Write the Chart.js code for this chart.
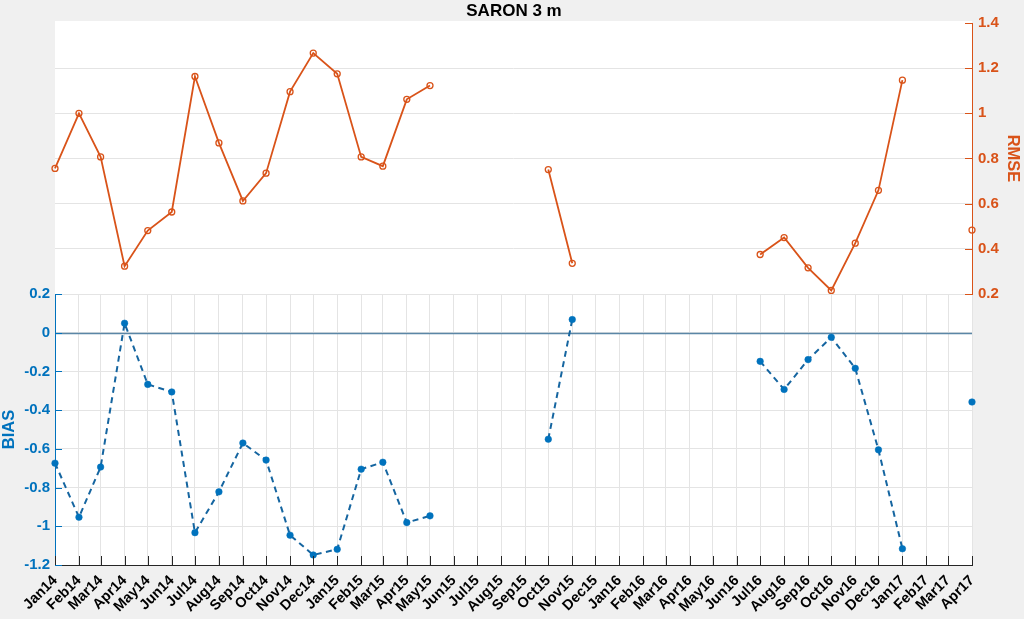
<!DOCTYPE html>
<html>
<head>
<meta charset="utf-8">
<script src="https://cdn.jsdelivr.net/npm/chart.js@4.4.1/dist/chart.umd.min.js"></script>
<style>
  html, body { margin: 0; padding: 0; background: #f0f0f0; }
  #wrap { position: relative; width: 1024px; height: 619px; background: #f0f0f0; overflow: hidden; }
  canvas { position: absolute; left: 0; top: 0; }
  #title { position: absolute; left: 0; top: 1px; width: 1028px; text-align: center;
           font: bold 17px "Liberation Sans", Arial, sans-serif; color: #000; line-height: 20px; }
</style>
</head>
<body>
<div id="wrap">
  <canvas id="bias" width="1024" height="619"></canvas>
  <canvas id="rmse" width="1024" height="619"></canvas>
  <div id="title">SARON 3 m</div>
</div>
<script>
const months = ['Jan14', 'Feb14', 'Mar14', 'Apr14', 'May14', 'Jun14', 'Jul14', 'Aug14', 'Sep14', 'Oct14', 'Nov14', 'Dec14',
                'Jan15', 'Feb15', 'Mar15', 'Apr15', 'May15', 'Jun15', 'Jul15', 'Aug15', 'Sep15', 'Oct15', 'Nov15', 'Dec15',
                'Jan16', 'Feb16', 'Mar16', 'Apr16', 'May16', 'Jun16', 'Jul16', 'Aug16', 'Sep16', 'Oct16', 'Nov16', 'Dec16',
                'Jan17', 'Feb17', 'Mar17', 'Apr17'];

// RMSE (top panel, right axis)
const rmse = [0.756, 1.00, 0.807, 0.323, 0.481, 0.563, 1.163, 0.869, 0.612, 0.735, 1.096, 1.267,
              1.175, 0.807, 0.766, 1.062, 1.123, null, null, null, null, 0.751, 0.336, null,
              null, null, null, null, null, null, 0.375, 0.450, 0.316, 0.216, 0.425, 0.659,
              1.147, null, null, 0.483];

// BIAS (bottom panel, left axis)
const bias = [-0.674, -0.953, -0.694, 0.049, -0.267, -0.306, -1.033, -0.822, -0.570, -0.658, -1.046, -1.148,
              -1.119, -0.705, -0.669, -0.981, -0.946, null, null, null, null, -0.550, 0.068, null,
              null, null, null, null, null, null, -0.148, -0.293, -0.139, -0.024, -0.184, -0.605,
              -1.116, null, null, -0.358];

const ORANGE = '#D95319';
const BLUE = '#0072BD';
const GRID = '#e4e4e4';

Chart.defaults.font.family = '"Liberation Sans", Arial, sans-serif';

// x positions are days since Jan 1 2014, so month ticks get their real spacing
const monNames = ['Jan', 'Feb', 'Mar', 'Apr', 'May', 'Jun', 'Jul', 'Aug', 'Sep', 'Oct', 'Nov', 'Dec'];
const dayOf = m => (Date.UTC(2000 + Number(m.slice(3)), monNames.indexOf(m.slice(0, 3)), 1) - Date.UTC(2014, 0, 1)) / 864e5;
const xs = months.map(dayOf);

const rmseData = rmse.map((v, i) => ({x: xs[i], y: v}));
const biasData = bias.map((v, i) => ({x: xs[i], y: v}));

const fmt = v => String(Number(v.toFixed(1)));

const panelBg = {
  id: 'panelBg',
  beforeDraw(chart) {
    const {ctx, chartArea: a} = chart;
    ctx.save();
    ctx.fillStyle = '#ffffff';
    ctx.fillRect(a.left, a.top - 2, a.right - a.left, a.bottom - a.top + 2);
    ctx.restore();
  }
};

// matlab style ticks pointing into the plot
const innerTicks = {
  id: 'innerTicks',
  afterDraw(chart, args, opts) {
    const {ctx, chartArea: a} = chart;
    ctx.save();
    ctx.lineWidth = 1;
    (opts.axes || []).forEach(ax => {
      const sc = chart.scales[ax.id];
      ctx.strokeStyle = ax.color;
      sc.ticks.forEach(t => {
        const p = Math.round(sc.getPixelForValue(t.value)) + 0.5;
        ctx.beginPath();
        if (sc.isHorizontal()) {
          ctx.moveTo(p, a.bottom);
          ctx.lineTo(p, a.bottom - ax.len);
        } else if (sc.position === 'left') {
          ctx.moveTo(a.left, p);
          ctx.lineTo(a.left + ax.len, p);
        } else {
          ctx.moveTo(a.right, p);
          ctx.lineTo(a.right - ax.len, p);
        }
        ctx.stroke();
      });
    });
    ctx.restore();
  }
};

const zeroLine = {
  id: 'zeroLine',
  beforeDatasetsDraw(chart) {
    const {ctx, chartArea: a, scales: {y}} = chart;
    const py = Math.round(y.getPixelForValue(0)) + 0.5;
    ctx.save();
    ctx.strokeStyle = '#5a86a6';
    ctx.lineWidth = 1.3;
    ctx.beginPath();
    ctx.moveTo(a.left, py);
    ctx.lineTo(a.right, py);
    ctx.stroke();
    ctx.restore();
  }
};

new Chart(document.getElementById('bias'), {
  type: 'line',
  data: {
    datasets: [{
      data: biasData,
      borderColor: '#1565a0',
      borderWidth: 2,
      borderDash: [6, 4.5],
      pointRadius: 3.3,
      pointBorderWidth: 0.5,
      pointBackgroundColor: BLUE,
      pointBorderColor: BLUE,
      spanGaps: false,
      tension: 0,
      clip: false
    }]
  },
  options: {
    responsive: false,
    animation: false,
    devicePixelRatio: 1,
    layout: {padding: {left: 0, top: 294, right: 52, bottom: 0}},
    plugins: {
      legend: {display: false},
      tooltip: {enabled: false},
      innerTicks: {axes: [{id: 'x', color: '#262626', len: 9}, {id: 'y', color: BLUE, len: 7}]}
    },
    scales: {
      x: {
        type: 'linear',
        position: 'bottom',
        min: xs[0],
        max: xs[xs.length - 1],
        afterBuildTicks: s => { s.ticks = xs.map(v => ({value: v})); },
        afterFit: s => { s.height = 54; },
        ticks: {
          autoSkip: false,
          maxRotation: 45,
          minRotation: 45,
          padding: 7,
          color: '#000',
          font: {size: 14.5, weight: 'bold'},
          callback: (v, i) => months[i]
        },
        grid: {color: GRID, drawTicks: false},
        border: {color: '#262626', width: 1}
      },
      y: {
        position: 'left',
        min: -1.2,
        max: 0.2,
        afterFit: s => { s.width = 55; },
        ticks: {stepSize: 0.2, padding: 5, color: BLUE, font: {size: 15, weight: 'bold'}, callback: fmt},
        grid: {color: GRID, drawTicks: false},
        border: {color: BLUE, width: 1},
        title: {display: true, text: 'BIAS', color: BLUE, font: {size: 16.5, weight: 'bold'}, padding: {top: 0, bottom: 0}}
      }
    }
  },
  plugins: [panelBg, zeroLine, innerTicks]
});

new Chart(document.getElementById('rmse'), {
  type: 'line',
  data: {
    datasets: [{
      data: rmseData,
      borderColor: ORANGE,
      borderWidth: 1.8,
      pointRadius: 3,
      pointBorderWidth: 1.3,
      pointBackgroundColor: 'rgba(0,0,0,0)',
      pointBorderColor: ORANGE,
      spanGaps: false,
      tension: 0,
      clip: false
    }]
  },
  options: {
    responsive: false,
    animation: false,
    devicePixelRatio: 1,
    layout: {padding: {left: 55, top: 23, right: 0, bottom: 325}},
    plugins: {
      legend: {display: false},
      tooltip: {enabled: false},
      innerTicks: {axes: [{id: 'y', color: ORANGE, len: 7}]}
    },
    scales: {
      x: {type: 'linear', display: false, min: xs[0], max: xs[xs.length - 1]},
      y: {
        position: 'right',
        min: 0.2,
        max: 1.4,
        afterFit: s => { s.width = 52; },
        ticks: {stepSize: 0.2, padding: 6, color: ORANGE, font: {size: 15, weight: 'bold'}, callback: fmt},
        grid: {
          drawTicks: false,
          color: c => (c.tick && c.tick.value > 0.25 && c.tick.value < 1.35) ? GRID : 'rgba(0,0,0,0)'
        },
        border: {color: ORANGE, width: 1},
        title: {display: true, text: 'RMSE', color: ORANGE, font: {size: 16.5, weight: 'bold'}, padding: {top: 2, bottom: 0}}
      }
    }
  },
  plugins: [panelBg, innerTicks]
});
</script>
</body>
</html>
